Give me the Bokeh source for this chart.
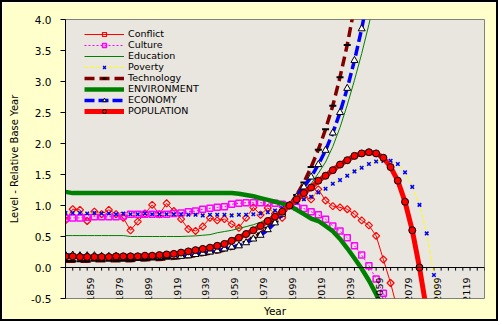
import math
from bokeh.plotting import figure
from bokeh.models import (Range1d, FixedTicker, PrintfTickFormatter, Legend,
                          LegendItem, Span, LabelSet, ColumnDataSource)
from bokeh.core.properties import value
from bokeh.embed import file_html
from bokeh.resources import INLINE

# ---------------- data ----------------
years = [1839, 1844, 1849, 1854, 1859, 1864, 1869, 1874, 1879, 1884,
         1889, 1894, 1899, 1904, 1909, 1914, 1919, 1924, 1929, 1934,
         1939, 1944, 1949, 1954, 1959, 1964, 1969, 1974, 1979, 1984,
         1989, 1994, 1999, 2004, 2009, 2014, 2019, 2024, 2029, 2034,
         2039, 2044, 2049, 2054, 2059, 2064, 2069, 2074, 2079, 2084,
         2089, 2094, 2099, 2104, 2109, 2114, 2119, 2124, 2129]
label_years = [1839, 1859, 1879, 1899, 1919, 1939, 1959, 1979, 1999,
               2019, 2039, 2059, 2079, 2099, 2119]
y_ticks = [-0.5, 0.0, 0.5, 1.0, 1.5, 2.0, 2.5, 3.0, 3.5, 4.0]

conflict = [0.76, 0.94, 0.93, 0.75, 0.90, 0.86, 0.93, 0.86, 0.80, 0.60,
            0.74, 0.87, 1.01, 0.86, 1.035, 0.91, 0.78, 0.62, 0.59, 0.66,
            0.80, 0.76, 0.78, 0.70, 0.64, 0.80, 0.97, 0.85, 0.96, 0.87,
            0.80, 1.00, 1.08, 1.14, 1.10, 1.26, 1.08, 0.99, 0.97, 0.94,
            0.86, 0.76, 0.68, 0.51, 0.13, -0.25, -0.70]
culture = [0.79, 0.80, 0.80, 0.81, 0.82, 0.82, 0.82, 0.82, 0.83, 0.86,
           0.86, 0.86, 0.86, 0.86, 0.86, 0.87, 0.88, 0.90, 0.91, 0.94,
           0.955, 0.97, 0.98, 1.02, 1.035, 1.045, 1.045, 1.045, 1.04, 1.035,
           1.02, 1.00, 0.97, 0.95, 0.90, 0.85, 0.78, 0.67, 0.59, 0.48,
           0.35, 0.20, 0.03, -0.185, -0.415, -0.65]
education = [0.515, 0.515, 0.515, 0.515, 0.515, 0.515, 0.515, 0.515, 0.515, 0.50,
             0.50, 0.50, 0.50, 0.50, 0.50, 0.50, 0.50, 0.505, 0.51, 0.52,
             0.53, 0.56, 0.58, 0.60, 0.63, 0.66, 0.69, 0.73, 0.79, 0.85,
             0.92, 1.00, 1.10, 1.21, 1.35, 1.52, 1.70, 1.95, 2.26, 2.62,
             3.02, 3.45, 3.92, 4.45]
poverty = [0.88, 0.88, 0.88, 0.87, 0.88, 0.87, 0.87, 0.86, 0.87, 0.86,
           0.86, 0.87, 0.86, 0.86, 0.86, 0.86, 0.86, 0.85, 0.85, 0.84,
           0.85, 0.85, 0.85, 0.84, 0.85, 0.85, 0.86, 0.87, 0.89, 0.92,
           0.96, 1.00, 1.05, 1.10, 1.14, 1.21, 1.27, 1.35, 1.41, 1.48,
           1.55, 1.61, 1.67, 1.71, 1.72, 1.72, 1.67, 1.535, 1.30, 1.01,
           0.55, -0.12, -0.95]
technology = [0.10, 0.10, 0.10, 0.10, 0.11, 0.11, 0.11, 0.11, 0.11, 0.11,
              0.12, 0.12, 0.13, 0.13, 0.14, 0.15, 0.16, 0.175, 0.19, 0.21,
              0.23, 0.25, 0.28, 0.31, 0.355, 0.41, 0.48, 0.55, 0.64, 0.74,
              0.86, 1.00, 1.17, 1.37, 1.62, 1.90, 2.23, 2.61, 3.07, 3.59,
              4.20]
environment = [1.22, 1.20, 1.20, 1.20, 1.20, 1.20, 1.20, 1.20, 1.20, 1.20,
               1.20, 1.20, 1.20, 1.20, 1.20, 1.20, 1.20, 1.20, 1.20, 1.20,
               1.20, 1.20, 1.20, 1.20, 1.19, 1.17, 1.15, 1.12, 1.09, 1.06,
               1.03, 1.00, 0.93, 0.86, 0.79, 0.75, 0.67, 0.585, 0.46, 0.31,
               0.15, -0.02, -0.21, -0.43, -0.70]
economy = [0.20, 0.20, 0.19, 0.19, 0.19, 0.18, 0.18, 0.18, 0.17, 0.17,
           0.17, 0.17, 0.17, 0.17, 0.18, 0.18, 0.18, 0.19, 0.21, 0.23,
           0.25, 0.27, 0.30, 0.33, 0.35, 0.40, 0.46, 0.52, 0.61, 0.72,
           0.86, 1.00, 1.14, 1.30, 1.46, 1.66, 1.89, 2.17, 2.50, 2.89,
           3.34, 3.85, 4.45]
population = [0.18, 0.18, 0.17, 0.17, 0.17, 0.17, 0.17, 0.18, 0.18, 0.18,
              0.18, 0.19, 0.19, 0.20, 0.21, 0.22, 0.24, 0.26, 0.28, 0.30,
              0.32, 0.35, 0.38, 0.43, 0.48, 0.54, 0.60, 0.67, 0.75, 0.82,
              0.90, 1.00, 1.10, 1.20, 1.29, 1.40, 1.48, 1.57, 1.66, 1.73,
              1.80, 1.84, 1.86, 1.84, 1.77, 1.62, 1.40, 1.06, 0.60, 0.00,
              -0.70]

FONT = "DejaVu Sans"

p = figure(width=498, height=321, output_backend="svg", toolbar_location=None,
           x_range=Range1d(1839, 2129), y_range=Range1d(-0.5, 4.0),
           min_border_left=63, min_border_right=16, min_border_top=17,
           min_border_bottom=25)
p.styles = {"border": "2px solid black"}
p.background_fill_color = "#E9E5DF"
p.border_fill_color = "#FFFFCC"
p.outline_line_color = "#808080"
p.outline_line_width = 1
p.grid.visible = False

# y axis
ya = p.yaxis[0]
ya.ticker = FixedTicker(ticks=y_ticks)
ya.formatter = PrintfTickFormatter(format="%.1f")
ya.major_tick_out = 5
ya.major_tick_in = 0
ya.minor_tick_line_color = None
ya.axis_line_color = "black"
ya.major_tick_line_color = "black"
ya.major_label_standoff = 9
ya.major_label_text_font = FONT
ya.major_label_text_font_size = "10.5px"
ya.major_label_text_color = "black"
ya.axis_label = "Level - Relative Base Year"
ya.axis_label_text_font = FONT
ya.axis_label_text_font_size = "10px"
ya.axis_label_text_font_style = "normal"
ya.axis_label_text_color = "black"
ya.axis_label_standoff = 8

# x axis (bottom, title only)
xa = p.xaxis[0]
xa.ticker = FixedTicker(ticks=[])
xa.axis_line_color = None
xa.major_tick_line_color = None
xa.minor_tick_line_color = None
xa.axis_label = "Year"
xa.axis_label_text_font = FONT
xa.axis_label_text_font_size = "10.5px"
xa.axis_label_text_font_style = "normal"
xa.axis_label_text_color = "black"
xa.axis_label_standoff = 6

# category axis drawn at y = 0
p.add_layout(Span(location=0, dimension="width", line_color="black", line_width=1))
p.segment(x0=years, y0=[0] * len(years), x1=years, y1=[-0.05] * len(years),
          line_color="black", line_width=1)
lab_src = ColumnDataSource(dict(x=label_years, y=[0] * len(label_years),
                                t=[str(v) for v in label_years]))
p.add_layout(LabelSet(x="x", y="y", text="t", source=lab_src,
                      angle=math.pi / 2, text_align="right", text_baseline="middle",
                      x_offset=-4, y_offset=-10, text_font=value(FONT),
                      text_font_size="9.5px", text_color="black"))

items = []

def series(name, vals, color, width, dash, marker, msize, mfill, mline, mlw=1.0, angle=0.0):
    xs = years[:len(vals)]
    r1 = p.line(xs, vals, line_color=color, line_width=width, line_dash=dash)
    rs = [r1]
    if marker is not None:
        r2 = p.scatter(xs, vals, marker=marker, size=msize, fill_color=mfill,
                       line_color=mline, line_width=mlw, angle=angle)
        rs.append(r2)
    items.append(LegendItem(label=name, renderers=rs))

series("Conflict", conflict, "#FF0000", 1, "solid", "square", 5, None, "#FF0000", 1.2, math.pi / 4)
series("Culture", culture, "#FF00FF", 1, "2 2", "square", 6, None, "#FF00FF", 1.5)
series("Education", education, "#008000", 1, "solid", None, 0, None, None)
series("Poverty", poverty, "#FFFF00", 1, "4 2", "x", 5, None, "#0000FF", 1.5)
series("Technology", technology, "#800000", 3.5, "10 5", "dash", 7, None, "black", 2)
series("ENVIRONMENT", environment, "#008000", 4.5, "solid", None, 0, None, None)
series("ECONOMY", economy, "#0000FF", 3.5, "10 4", "triangle", 7, "white", "black", 1)
series("POPULATION", population, "#FF0000", 5, "solid", "circle", 7, "#FF0000", "black", 1)

legend = Legend(items=items, location=(19, 182), padding=0, margin=0, spacing=0,
                glyph_width=40, glyph_height=10, label_height=10,
                label_standoff=4, border_line_color=None,
                background_fill_alpha=0, label_text_font=FONT,
                label_text_font_size="9.5px", label_text_color="black")
p.add_layout(legend)

open("out.html", "w").write(file_html(p, INLINE))
